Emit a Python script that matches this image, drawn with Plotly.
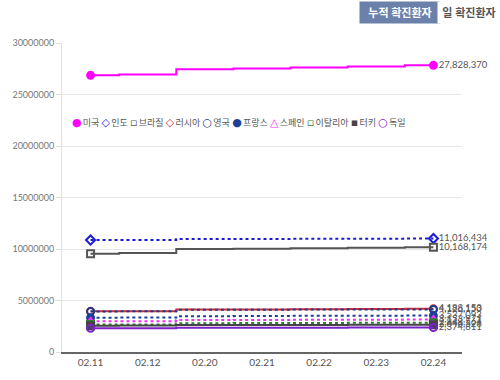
import plotly.graph_objects as go

dates = ["02.11", "02.12", "02.20", "02.21", "02.22", "02.23", "02.24"]

us = [26860000, 26950000, 27450000, 27530000, 27620000, 27720000, 27828370]
india = [10870000, 10880000, 10960000, 10975000, 10990000, 11003000, 11016434]
brazil = [9550000, 9600000, 9990000, 10035000, 10080000, 10125000, 10168174]
russia = [3950000, 3960000, 4120000, 4135000, 4150000, 4170000, 4188153]
uk = [3940000, 3950000, 4100000, 4110000, 4118000, 4124000, 4126150]
france = [3330000, 3350000, 3480000, 3495000, 3510000, 3525000, 3537093]
spain = [2980000, 2990000, 3100000, 3115000, 3130000, 3142000, 3153971]
italy = [2670000, 2680000, 2790000, 2805000, 2820000, 2835000, 2848564]
turkey = [2560000, 2570000, 2610000, 2620000, 2630000, 2638000, 2646526]
germany = [2300000, 2305000, 2350000, 2356000, 2362000, 2368000, 2374811]

series = [
    ("미국", us, "#ff00ff", "circle", "solid", "●"),
    ("인도", india, "#1a1adb", "diamond-open", "dot", "◇"),
    ("브라질", brazil, "#555555", "square-open", "solid", "▫"),
    ("러시아", russia, "#c8303c", "circle-open", "solid", "◇"),
    ("영국", uk, "#1e3a8a", "circle-open", "dot", "○"),
    ("프랑스", france, "#1d3f9a", "circle", "dot", "●"),
    ("스페인", spain, "#ee33ee", "triangle-up-open", "dot", "△"),
    ("이탈리아", italy, "#2e7d32", "square-open", "dot", "▫"),
    ("터키", turkey, "#444444", "square", "solid", "▪"),
    ("독일", germany, "#7b22c8", "circle-open", "solid", "○"),
]

fig = go.Figure()
n = len(dates)
for name, vals, color, sym, dash, _ in series:
    sizes = [7] + [0] * (n - 2) + [7]
    opac = [1] + [0] * (n - 2) + [1]
    texts = [""] * (n - 1) + [f"{vals[-1]:,}"]
    fig.add_trace(go.Scatter(
        x=dates, y=vals, name=name, mode="lines+markers+text",
        line=dict(color=color, width=2, dash=dash, shape="hvh"),
        marker=dict(symbol=sym, size=sizes, opacity=opac, color=color,
                    line=dict(color=color, width=2)),
        text=texts, textposition="middle right",
        textfont=dict(size=9.5, color="#555555"),
        cliponaxis=False, showlegend=False,
    ))

legend_html = " ".join(
    f"<span style='color:{c};font-family:DejaVu Sans;font-weight:bold;font-size:11px'>{s}</span>\u2009{nm}"
    for nm, _, c, _, _, s in series
)

fig.update_layout(
    width=500, height=380,
    margin=dict(l=48, r=38, t=43, b=18),
    paper_bgcolor="white", plot_bgcolor="white",
    font=dict(family="Lato, Noto Sans CJK KR, sans-serif", color="#666666"),
    showlegend=False,
    xaxis=dict(type="category", range=[-0.5, 6.5], showgrid=False,
               showline=True, linecolor="#666666", linewidth=2,
               tickfont=dict(size=10, color="#555555"), ticks="", fixedrange=True),
    yaxis=dict(range=[0, 30000000], dtick=5000000, tickformat="d",
               showgrid=True, gridcolor="#e6e6e6", gridwidth=1,
               showline=True, linecolor="#e0e0e0", zeroline=False,
               ticks="outside", ticklen=5, tickcolor="#dddddd",
               tickfont=dict(size=9, color="#777777")),
)

fig.add_annotation(xref="paper", yref="paper", x=(56 - 48) / 414, y=(362 - 125) / 319,
                   text=legend_html, showarrow=False, xanchor="left", yanchor="middle",
                   font=dict(size=9, color="#555555"))

fig.add_annotation(xref="paper", yref="paper", x=(398 - 48) / 414, y=(380 - 11 - 18) / 319,
                   text="<b>누적 확진환자</b>", showarrow=False, xanchor="center", yanchor="middle",
                   bgcolor="#6b81a9", font=dict(size=11, color="white"),
                   width=80, height=21, borderpad=0)
fig.add_annotation(xref="paper", yref="paper", x=(469 - 48) / 414, y=(380 - 11 - 18) / 319,
                   text="<b>일 확진환자</b>", showarrow=False, xanchor="center", yanchor="middle",
                   bgcolor="white", font=dict(size=11, color="#555555"),
                   width=62, height=21, borderpad=0)

fig.write_html("out.html")
